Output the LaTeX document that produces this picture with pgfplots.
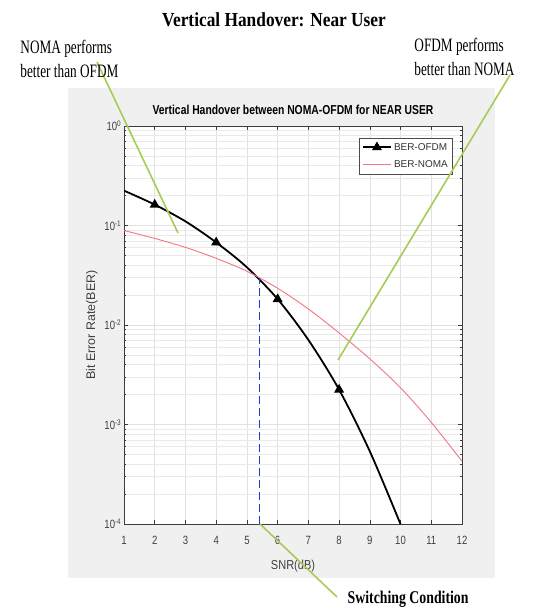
\documentclass[border=0pt]{standalone}
\usepackage{pgfplots}
\pgfplotsset{compat=1.18}
\usepackage{fontspec}
\setmainfont{Liberation Serif}
\newfontfamily\arial{Liberation Sans}
\definecolor{bggray}{RGB}{240,240,240}
\definecolor{annot}{RGB}{165,205,85}
\definecolor{nomared}{RGB}{238,120,130}
\definecolor{switchblue}{RGB}{30,60,200}
\definecolor{gridc}{RGB}{225,225,225}
\definecolor{axc}{RGB}{60,60,60}
\begin{document}
\begin{tikzpicture}[x=1bp,y=1bp]
\useasboundingbox (0,0) rectangle (534,612);
\fill[white] (0,0) rectangle (534,612);
\fill[bggray] (68,34) rectangle (495,524);
\begin{axis}[
  at={(124bp,88bp)}, anchor=south west,
  scale only axis, width=338bp, height=398bp,
  xmin=1, xmax=12, ymin=1e-4, ymax=1, ymode=log,
  axis background/.style={fill=white},
  xtick={1,...,12},
  ytick={1e-4,1e-3,1e-2,1e-1,1},
  yticklabels={10\textsuperscript{-4},10\textsuperscript{-3},10\textsuperscript{-2},10\textsuperscript{-1},10\textsuperscript{0}},
  /pgf/number format/assume math mode=true,
  tick label style={font=\arial\fontsize{12}{12}\selectfont, text=black!75},
  xticklabel style={xscale=0.8, yshift=-9bp},
  yticklabel style={xscale=0.8},
  grid=both,
  major grid style={gridc, line width=0.5bp},
  minor grid style={gridc!70, line width=0.4bp},
  axis line style={axc, line width=0.6bp},
  tick style={axc, line width=0.5bp},
  major tick length=4bp, minor tick length=2bp,
  title={Vertical Handover between NOMA-OFDM for NEAR USER},
  title style={font=\arial\bfseries\fontsize{13}{13}\selectfont, xscale=0.8, at={(axis description cs:0.5,1.015)}, anchor=base},
  xlabel={SNR(dB)},
  ylabel={Bit Error Rate(BER)},
  every axis x label/.style={at={(axis description cs:0.5,-0.105)}, anchor=center, font=\arial\fontsize{13}{13}\selectfont, xscale=0.85, text=black!75},
  every axis y label/.style={at={(axis description cs:-0.095,0.5)}, rotate=90, anchor=center, font=\arial\fontsize{12.5}{12.5}\selectfont, text=black!75},
  legend style={at={(0.973,0.970)}, anchor=north east, font=\arial\fontsize{10}{11}\selectfont, draw=black!70, inner sep=3pt, row sep=5pt, text=black!80},
  legend cell align=left,
  legend image code/.code={\draw[mark repeat=2,mark phase=2,#1] plot coordinates {(0cm,0cm) (0.5cm,0cm) (1cm,0cm)};},
]
\addplot[black, line width=1.8bp, smooth, tension=0.5, mark=triangle*, mark size=4bp, mark indices={2,4,6,8}, mark options={solid}] coordinates {
(1,0.224) (2,0.162) (3,0.110) (4,0.0676) (5,0.038) (6,0.0182) (7,0.00708) (8,0.00224) (9,0.000537) (10,0.0000995)
};
\addlegendentry{BER-OFDM}
\addplot[nomared, line width=0.9bp, smooth, tension=0.5] coordinates {
(1,0.0891) (2,0.0741) (3,0.0603) (4,0.0468) (5,0.0347) (6,0.0234) (7,0.0145) (8,0.00832) (9,0.00457) (10,0.00234) (11,0.00105) (12,0.000427)
};
\addlegendentry{BER-NOMA}
\addplot[switchblue, line width=1.1bp, dash pattern=on 8bp off 4bp, forget plot] coordinates {(5.4,1e-4) (5.4,0.0295)};
\end{axis}
\draw[annot, line width=1.6bp] (97,550) -- (178,379);
\draw[annot, line width=1.6bp] (510,537) -- (338,252);
\draw[annot, line width=1.6bp] (260,88) -- (337,15);
\node[anchor=base, font=\bfseries\fontsize{20}{20}\selectfont, xscale=0.87] at (274,585) {Vertical Handover: Near User};
\node[anchor=base west, font=\fontsize{19}{19}\selectfont, xscale=0.7] at (18,558) {NOMA performs};
\node[anchor=base west, font=\fontsize{19}{19}\selectfont, xscale=0.7] at (18,534) {better than OFDM};
\node[anchor=base west, font=\fontsize{19}{19}\selectfont, xscale=0.7] at (412,560) {OFDM performs};
\node[anchor=base west, font=\fontsize{19}{19}\selectfont, xscale=0.7] at (412,536) {better than NOMA};
\node[anchor=base west, font=\bfseries\fontsize{18}{18}\selectfont, xscale=0.77] at (345,8) {Switching Condition};
\end{tikzpicture}
\end{document}
